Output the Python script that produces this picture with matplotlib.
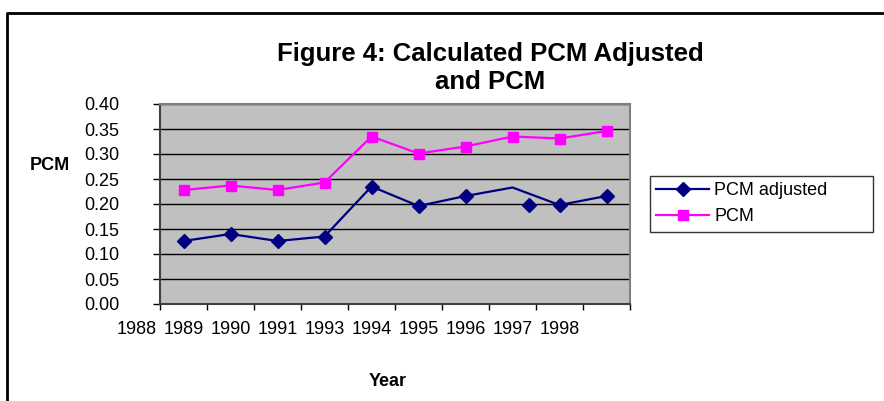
import numpy as np
import matplotlib
matplotlib.use('Agg')
import matplotlib.pyplot as plt
from matplotlib.lines import Line2D

plt.rcParams['font.family'] = ['Liberation Sans', 'DejaVu Sans']

# Values
year_labels = ['1988', '1989', '1990', '1991', '1993', '1994', '1995', '1996', '1997', '1998']
pcm = [0.228, 0.237, 0.228, 0.243, 0.335, 0.301, 0.315, 0.335, 0.331, 0.346]
pcm_adjusted = [0.126, 0.140, 0.126, 0.135, 0.235, 0.196, 0.216, 0.233, 0.198, 0.216]
# the 1997 marker of the adjusted series sits off its line vertex in the original
stray_marker_pos = [7.85]
stray_marker_val = [0.199]
y_ticks = [0.00, 0.05, 0.10, 0.15, 0.20, 0.25, 0.30, 0.35, 0.40]

navy = '#000080'
magenta = '#FF00FF'

fig = plt.figure(figsize=(8.84, 4.01), dpi=100)
ax = fig.add_axes([160 / 884, 1 - 304 / 401, 470 / 884, 200 / 401])
ax.set_facecolor('#C0C0C0')

x = np.arange(len(pcm)) + 0.5
marked = [i for i in range(len(pcm_adjusted)) if i != 7]

ax.plot(x, pcm_adjusted, color=navy, lw=1.6, zorder=3)
ax.plot(x[marked], np.array(pcm_adjusted)[marked], ls='none', marker='D',
        ms=7, color=navy, zorder=4)
ax.plot(stray_marker_pos, stray_marker_val, ls='none', marker='D', ms=7, color=navy, zorder=4)
ax.plot(x, pcm, color=magenta, lw=1.6, marker='s', ms=7.5, zorder=3)

ax.set_xlim(0, len(pcm))
ax.set_ylim(0, 0.4)
ax.set_yticks(y_ticks)
ax.set_yticklabels(['%.2f' % v for v in y_ticks], fontsize=13)
ax.set_xticks(np.arange(len(pcm) + 1))
ax.set_xticklabels([])
ax.tick_params(axis='y', length=5, width=1, pad=24, color='black')
ax.tick_params(axis='x', length=4.5, width=1, color='black')
for label, pos in zip(year_labels, np.arange(len(year_labels)) - 0.5):
    ax.text(pos, -0.13, label, transform=ax.get_xaxis_transform(), ha='center',
            va='center', fontsize=13, clip_on=False)

ax.grid(axis='y', color='black', lw=1, zorder=1)
ax.set_axisbelow(True)
for side in ['top', 'right']:
    ax.spines[side].set_color('#808080')
    ax.spines[side].set_linewidth(1.5)
for side in ['left', 'bottom']:
    ax.spines[side].set_color('#404040')
    ax.spines[side].set_linewidth(1.5)

handles = [Line2D([], [], color=navy, lw=1.6, marker='D', ms=7),
           Line2D([], [], color=magenta, lw=1.6, marker='s', ms=7.5)]
leg = fig.legend(handles, ['PCM adjusted', 'PCM'], loc='upper left', mode='expand',
                 bbox_to_anchor=(650 / 884, 1 - 232 / 401, 223 / 884, 56 / 401), fontsize=13,
                 frameon=True, fancybox=False, handlelength=2.9, handletextpad=0.3,
                 labelspacing=0.5, borderpad=0.35, borderaxespad=0)
leg.get_frame().set_edgecolor('black')
leg.get_frame().set_linewidth(1)

fig.text(490 / 884, 1 - 68 / 401, 'Figure 4: Calculated PCM Adjusted\nand PCM',
         ha='center', va='center', fontsize=18.5, fontweight='bold', linespacing=1.2)
fig.text(50 / 884, 1 - 165 / 401, 'PCM', ha='center', va='center', fontsize=13, fontweight='bold')
fig.text(388 / 884, 1 - 382 / 401, 'Year', ha='center', va='center', fontsize=13, fontweight='bold')

# outer chart frame (top and left edges only visible)
fig.add_artist(Line2D([7 / 884, 7 / 884, 1], [0, 1 - 13 / 401, 1 - 13 / 401],
                      transform=fig.transFigure, color='black', lw=2))

fig.savefig('out.png', dpi=100)
